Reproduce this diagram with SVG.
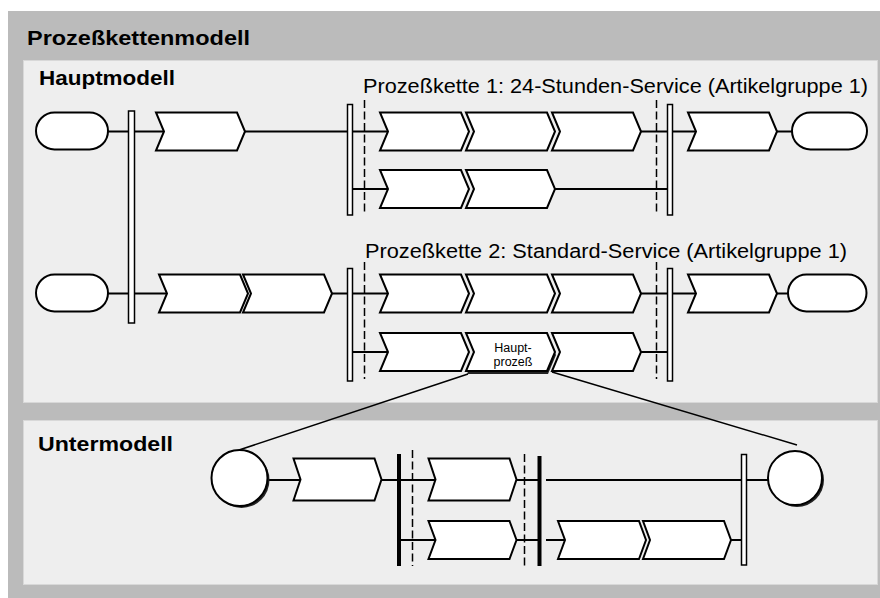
<svg xmlns="http://www.w3.org/2000/svg" xmlns:xlink="http://www.w3.org/1999/xlink" width="880" height="598" viewBox="0 0 880 598">
<style>
.frame{fill:#bbbbbb}
.panel{fill:#eeeeee;stroke:#d8d8d8;stroke-width:1}
.title{font-family:"Liberation Sans",Arial,sans-serif;font-weight:bold;font-size:21px;fill:#000}
.chain{font-family:"Liberation Sans",Arial,sans-serif;font-size:20px;fill:#000}
.small{font-family:"Liberation Sans",Arial,sans-serif;font-size:12.5px;fill:#000}
.shape{fill:#fff;stroke:#000;stroke-width:2;stroke-linejoin:miter}
.bar{fill:#fff;stroke:#000;stroke-width:1.5}
.tbar{fill:#000}
.ln{stroke:#000;stroke-width:2;fill:none}
.thin{stroke:#000;stroke-width:1.5;fill:none}
.dash{stroke:#000;stroke-width:1.5;stroke-dasharray:8 3.5;fill:none}
.shadow{fill:#222}
</style>
<defs>
<polygon id="ch" points="0,0 81,0 89,19 81,38 0,38 8,19"/>
<polygon id="chu1" points="0,0 81,0 88,21 81,42 0,42 7,21"/>
<polygon id="chu2" points="0,0 81,0 88,19 81,38 0,38 7,19"/>
</defs>

<rect class="frame" x="8" y="11" width="872" height="587"/>
<text class="title" x="27" y="45" font-size="22" textLength="223" lengthAdjust="spacingAndGlyphs">Prozeßkettenmodell</text>

<g id="hauptmodell">
<rect class="panel" x="23.5" y="60.5" width="854" height="342"/>
<text class="title" x="39" y="85" textLength="136" lengthAdjust="spacingAndGlyphs">Hauptmodell</text>
<text class="chain" x="363" y="92.5" textLength="505" lengthAdjust="spacingAndGlyphs">Prozeßkette 1: 24-Stunden-Service (Artikelgruppe 1)</text>
<text class="chain" x="365" y="258" textLength="482" lengthAdjust="spacingAndGlyphs">Prozeßkette 2: Standard-Service (Artikelgruppe 1)</text>
</g>

<g id="untermodell">
<rect class="panel" x="23.5" y="420.5" width="854" height="164"/>
<text class="title" x="38" y="451" textLength="135" lengthAdjust="spacingAndGlyphs">Untermodell</text>
</g>

<g id="connectors">
<line class="ln" x1="108" y1="131.5" x2="164" y2="131.5"/>
<line class="ln" x1="245" y1="131.5" x2="388" y2="131.5"/>
<line class="ln" x1="641" y1="131.5" x2="696" y2="131.5"/>
<line class="ln" x1="777" y1="131.5" x2="792" y2="131.5"/>
<line class="ln" x1="352.5" y1="189" x2="388" y2="189"/>
<line class="ln" x1="555" y1="189" x2="668" y2="189"/>
<line class="ln" x1="108" y1="293.5" x2="167" y2="293.5"/>
<line class="ln" x1="332" y1="293.5" x2="388" y2="293.5"/>
<line class="ln" x1="641" y1="293.5" x2="696" y2="293.5"/>
<line class="ln" x1="777" y1="293.5" x2="788" y2="293.5"/>
<line class="ln" x1="352.5" y1="352" x2="388" y2="352"/>
<line class="ln" x1="641" y1="352" x2="668" y2="352"/>
<line class="ln" x1="267" y1="480" x2="300.5" y2="480"/>
<line class="ln" x1="381.5" y1="480" x2="435.5" y2="480"/>
<line class="ln" x1="516.5" y1="480" x2="538" y2="480"/>
<line class="ln" x1="546" y1="480" x2="742" y2="480"/>
<line class="ln" x1="746" y1="480" x2="768" y2="480"/>
<line class="ln" x1="401" y1="540" x2="435.5" y2="540"/>
<line class="ln" x1="516.5" y1="540" x2="538" y2="540"/>
<line class="ln" x1="546" y1="540" x2="565" y2="540"/>
<line class="ln" x1="731" y1="540" x2="742" y2="540"/>
<line class="thin" x1="468" y1="374" x2="239" y2="450"/>
<line class="thin" x1="552" y1="372" x2="797" y2="445"/>
<line class="dash" x1="364.5" y1="100" x2="364.5" y2="212"/>
<line class="dash" x1="656.5" y1="100" x2="656.5" y2="212"/>
<line class="dash" x1="364.5" y1="262" x2="364.5" y2="379"/>
<line class="dash" x1="656.5" y1="262" x2="656.5" y2="379"/>
<line class="dash" x1="412.5" y1="450" x2="412.5" y2="566"/>
<line class="dash" x1="524.5" y1="454" x2="524.5" y2="566"/>
</g>

<g id="bars">
<rect class="bar" x="128.5" y="111" width="6" height="212"/>
<rect class="bar" x="347.5" y="104.5" width="5" height="110.5"/>
<rect class="bar" x="667.5" y="104.5" width="5" height="110.5"/>
<rect class="bar" x="347.5" y="268.5" width="5" height="112.5"/>
<rect class="bar" x="667.5" y="268.5" width="5" height="112.5"/>
<rect class="tbar" x="397" y="454" width="4" height="112"/>
<rect class="tbar" x="537.5" y="456" width="4" height="110"/>
<rect class="bar" x="741.5" y="454.5" width="5" height="110.5"/>
</g>

<g id="start1"><rect class="shape" x="36" y="112.5" width="72" height="37" rx="18.5"/></g>
<g id="end1"><rect class="shape" x="792" y="112.5" width="75" height="37" rx="18.5"/></g>
<g id="start2"><rect class="shape" x="36" y="274.5" width="72" height="37" rx="18.5"/></g>
<g id="end2"><rect class="shape" x="788" y="274.5" width="78.5" height="37" rx="18.5"/></g>

<g id="f1"><use xlink:href="#ch" class="shape" x="156" y="112.5"/></g>
<g id="k1a"><use xlink:href="#ch" class="shape" x="380" y="112.5"/></g>
<g id="k1b"><use xlink:href="#ch" class="shape" x="466" y="112.5"/></g>
<g id="k1c"><use xlink:href="#ch" class="shape" x="552" y="112.5"/></g>
<g id="f2"><use xlink:href="#ch" class="shape" x="688" y="112.5"/></g>
<g id="k1d"><use xlink:href="#ch" class="shape" x="380" y="170"/></g>
<g id="k1e"><use xlink:href="#ch" class="shape" x="466" y="170"/></g>

<g id="f3"><use xlink:href="#ch" class="shape" x="159" y="274.5"/></g>
<g id="f4"><use xlink:href="#ch" class="shape" x="243" y="274.5"/></g>
<g id="k2a"><use xlink:href="#ch" class="shape" x="380" y="274.5"/></g>
<g id="k2b"><use xlink:href="#ch" class="shape" x="466" y="274.5"/></g>
<g id="k2c"><use xlink:href="#ch" class="shape" x="552" y="274.5"/></g>
<g id="f5"><use xlink:href="#ch" class="shape" x="688" y="274.5"/></g>
<g id="k2d"><use xlink:href="#ch" class="shape" x="380" y="333"/></g>
<g id="hauptprozess">
<use xlink:href="#ch" class="shadow" x="467" y="336"/>
<use xlink:href="#ch" class="shape" x="466" y="333"/>
<text class="small" x="513" y="352" text-anchor="middle">Haupt-</text>
<text class="small" x="513" y="366" text-anchor="middle">prozeß</text>
</g>
<g id="k2f"><use xlink:href="#ch" class="shape" x="552" y="333"/></g>

<g id="ustart">
<circle class="shadow" cx="241.5" cy="480" r="28"/>
<circle class="shape" cx="239.5" cy="478" r="28"/>
</g>
<g id="uend">
<circle class="shadow" cx="797" cy="480" r="27"/>
<circle class="shape" cx="795" cy="478" r="27"/>
</g>
<g id="u1"><use xlink:href="#chu1" class="shape" x="293.5" y="458.5"/></g>
<g id="u2"><use xlink:href="#chu1" class="shape" x="428.5" y="458.5"/></g>
<g id="u3"><use xlink:href="#chu2" class="shape" x="428.5" y="521"/></g>
<g id="u4"><use xlink:href="#chu2" class="shape" x="558" y="521"/></g>
<g id="u5"><use xlink:href="#chu2" class="shape" x="643" y="521"/></g>
</svg>
